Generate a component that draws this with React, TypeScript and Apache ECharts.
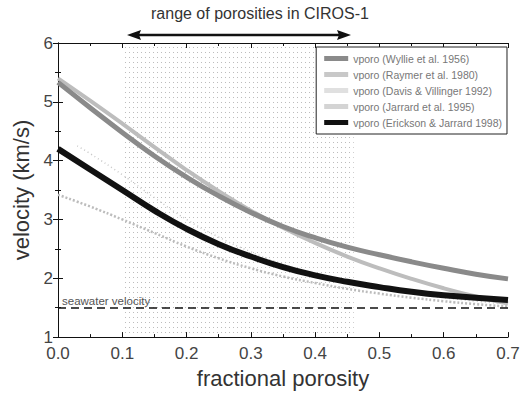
import React, { useEffect, useRef } from "react";
import * as echarts from "echarts";

const porosity = [0, 0.05, 0.1, 0.15, 0.2, 0.25, 0.3, 0.35, 0.4, 0.45, 0.5, 0.55, 0.6, 0.65, 0.7];
const wyllie = [5.33, 4.9, 4.48, 4.08, 3.72, 3.4, 3.12, 2.88, 2.69, 2.53, 2.4, 2.28, 2.17, 2.07, 1.99];
const raymer = [5.4, 5.02, 4.63, 4.23, 3.84, 3.48, 3.15, 2.86, 2.6, 2.37, 2.17, 1.99, 1.83, 1.69, 1.57];
const davisPorosity = [0.03, 0.05, 0.1, 0.15, 0.2, 0.25, 0.3, 0.35, 0.4, 0.45, 0.5, 0.55, 0.6, 0.65, 0.7];
const davis = [4.25, 4.12, 3.76, 3.37, 3.0, 2.7, 2.45, 2.24, 2.07, 1.94, 1.83, 1.74, 1.67, 1.61, 1.56];
const jarrard = [3.42, 3.22, 3.0, 2.77, 2.54, 2.34, 2.17, 2.03, 1.92, 1.82, 1.74, 1.67, 1.61, 1.56, 1.52];
const erickson = [4.2, 3.85, 3.5, 3.15, 2.84, 2.58, 2.37, 2.19, 2.05, 1.94, 1.85, 1.77, 1.71, 1.67, 1.63];
const seawater = 1.5;
const cirosRange = [0.1, 0.46];
const seriesNames = [
  "vporo (Wyllie et al. 1956)",
  "vporo (Raymer et al. 1980)",
  "vporo (Davis & Villinger 1992)",
  "vporo (Jarrard et al. 1995)",
  "vporo (Erickson & Jarrard 1998)",
];
const legendColors = ["#8a8a8a", "#c8c8c8", "#e0e0e0", "#d4d4d4", "#111"];

const FONT = "Liberation Sans, Arial, sans-serif";

const dotSvg =
  "data:image/svg+xml;utf8," +
  encodeURIComponent(
    '<svg xmlns="http://www.w3.org/2000/svg" width="4" height="5"><rect x="1" y="2" width="1" height="1" fill="#bcbcbc"/></svg>'
  );

function pairs(xs: number[], ys: number[]) {
  return xs.map((x, i) => [x, ys[i]]);
}

export default function App() {
  const ref = useRef<HTMLDivElement>(null);
  useEffect(() => {
    if (!ref.current) return;
    const chart = echarts.init(ref.current, undefined, { renderer: "svg" });
    const axisCommon = {
      axisLine: { show: true, lineStyle: { color: "#111", width: 1 } },
      axisTick: { show: true, inside: true, length: 5, lineStyle: { color: "#111" } },
      minorTick: { show: true, splitNumber: 2, length: 3, lineStyle: { color: "#111" } },
      splitLine: { show: false },
    };
    const option: any = {
      animation: false,
      backgroundColor: "#fff",
      textStyle: { fontFamily: FONT },
      grid: { left: 58, right: 17, top: 43, bottom: 49 },
      xAxis: [
        {
          type: "value",
          min: 0,
          max: 0.7,
          interval: 0.1,
          name: "fractional porosity",
          nameLocation: "middle",
          nameGap: 26,
          nameTextStyle: { fontSize: 22, color: "#333", fontFamily: FONT },
          axisLabel: {
            fontSize: 17,
            color: "#444",
            fontFamily: FONT,
            margin: 8,
            formatter: (v: number) => v.toFixed(1),
          },
          ...axisCommon,
        },
        {
          type: "value",
          position: "top",
          min: 0,
          max: 0.7,
          interval: 0.1,
          axisLabel: { show: false },
          ...axisCommon,
        },
      ],
      yAxis: [
        {
          type: "value",
          min: 1,
          max: 6,
          interval: 1,
          name: "velocity (km/s)",
          nameLocation: "middle",
          nameGap: 23,
          nameTextStyle: { fontSize: 22, color: "#333", fontFamily: FONT },
          axisLabel: { fontSize: 17, color: "#444", fontFamily: FONT, margin: 5 },
          ...axisCommon,
        },
        {
          type: "value",
          position: "right",
          min: 1,
          max: 6,
          interval: 1,
          axisLabel: { show: false },
          ...axisCommon,
        },
      ],
      legend: {
        orient: "vertical",
        right: 18,
        top: 47,
        itemGap: 5,
        itemWidth: 24,
        itemHeight: 5,
        padding: [6, 5, 6, 8],
        borderColor: "#222",
        borderWidth: 1,
        backgroundColor: "#fff",
        textStyle: { fontSize: 10.5, color: "#777", fontFamily: FONT },
        data: seriesNames.map((n, i) => ({ name: n, icon: "rect", itemStyle: { color: legendColors[i] } })),
      },
      series: [
        {
          name: "ciros",
          type: "line",
          data: [],
          silent: true,
          markArea: {
            silent: true,
            itemStyle: {
              color: { image: dotSvg, repeat: "repeat", imageWidth: 4, imageHeight: 5 },
            },
            data: [[{ xAxis: cirosRange[0], yAxis: 1 }, { xAxis: cirosRange[1], yAxis: 6 }]],
          },
          markLine: {
            silent: true,
            symbol: "none",
            lineStyle: { color: "#111", type: [8, 5], width: 1.5 },
            label: {
              show: true,
              position: "insideStartTop",
              formatter: "seawater velocity",
              fontSize: 11.5,
              color: "#555",
              fontFamily: FONT,
              distance: [4, 1],
            },
            data: [{ yAxis: seawater }],
          },
        },
        {
          name: seriesNames[0],
          type: "line",
          showSymbol: false,
          smooth: true,
          data: pairs(porosity, wyllie),
          lineStyle: { color: "#8a8a8a", width: 5 },
          itemStyle: { color: "#8a8a8a" },
          z: 4,
        },
        {
          name: seriesNames[1],
          type: "line",
          showSymbol: false,
          smooth: true,
          data: pairs(porosity, raymer),
          lineStyle: { color: "#bdbdbd", width: 4 },
          itemStyle: { color: "#bdbdbd" },
          z: 3,
        },
        {
          name: seriesNames[2],
          type: "line",
          showSymbol: false,
          smooth: true,
          data: pairs(davisPorosity, davis),
          lineStyle: { color: "#c8c8c8", width: 1.5, type: [1, 3] },
          itemStyle: { color: "#c8c8c8" },
          z: 3,
        },
        {
          name: seriesNames[3],
          type: "line",
          showSymbol: false,
          smooth: true,
          data: pairs(porosity, jarrard),
          lineStyle: { color: "#bcbcbc", width: 2.5, type: [2, 2] },
          itemStyle: { color: "#bcbcbc" },
          z: 3,
        },
        {
          name: seriesNames[4],
          type: "line",
          showSymbol: false,
          smooth: true,
          data: pairs(porosity, erickson),
          lineStyle: { color: "#111", width: 6 },
          itemStyle: { color: "#111" },
          z: 5,
        },
      ],
      graphic: [
        {
          type: "text",
          left: 151,
          top: 5,
          style: {
            text: "range of porosities in CIROS-1",
            fontSize: 16,
            fill: "#333",
            fontFamily: FONT,
          },
        },
        {
          type: "line",
          shape: { x1: 136, y1: 35, x2: 342, y2: 35 },
          style: { stroke: "#111", lineWidth: 2.5 },
        },
        {
          type: "polygon",
          shape: { points: [[127, 35], [141, 30], [139, 35], [141, 40]] },
          style: { fill: "#111" },
        },
        {
          type: "polygon",
          shape: { points: [[351, 35], [337, 30], [339, 35], [337, 40]] },
          style: { fill: "#111" },
        },
      ],
    };
    chart.setOption(option);
    return () => chart.dispose();
  }, []);
  return <div ref={ref} style={{ width: 525, height: 394, position: "absolute", left: 0, top: 0 }} />;
}
